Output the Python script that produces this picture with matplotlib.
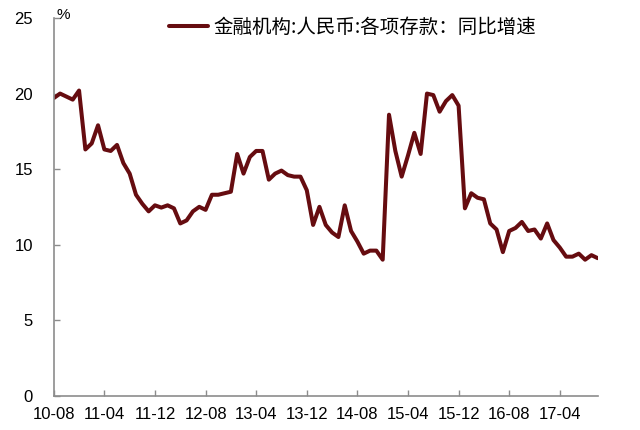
import matplotlib
matplotlib.use('Agg')
import matplotlib.pyplot as plt

plt.rcParams['font.family'] = ['Liberation Sans', 'Noto Sans CJK SC', 'DejaVu Sans']

# monthly, 2010-08 .. 2017-10
months = ['10-08', '10-09', '10-10', '10-11', '10-12',
          '11-01', '11-02', '11-03', '11-04', '11-05', '11-06', '11-07', '11-08',
          '11-09', '11-10', '11-11', '11-12',
          '12-01', '12-02', '12-03', '12-04', '12-05', '12-06', '12-07', '12-08',
          '12-09', '12-10', '12-11', '12-12',
          '13-01', '13-02', '13-03', '13-04', '13-05', '13-06', '13-07', '13-08',
          '13-09', '13-10', '13-11', '13-12',
          '14-01', '14-02', '14-03', '14-04', '14-05', '14-06', '14-07', '14-08',
          '14-09', '14-10', '14-11', '14-12',
          '15-01', '15-02', '15-03', '15-04', '15-05', '15-06', '15-07', '15-08',
          '15-09', '15-10', '15-11', '15-12',
          '16-01', '16-02', '16-03', '16-04', '16-05', '16-06', '16-07', '16-08',
          '16-09', '16-10', '16-11', '16-12',
          '17-01', '17-02', '17-03', '17-04', '17-05', '17-06', '17-07', '17-08',
          '17-09', '17-10']
deposit_yoy = [19.7, 20.0, 19.8, 19.6, 20.2,
               16.3, 16.7, 17.9, 16.3, 16.2, 16.6, 15.4, 14.7,
               13.3, 12.7, 12.2, 12.6,
               12.45, 12.6, 12.4, 11.4, 11.6, 12.2, 12.5, 12.3,
               13.3, 13.3, 13.4, 13.5,
               16.0, 14.7, 15.8, 16.2, 16.2, 14.3, 14.7, 14.9,
               14.6, 14.5, 14.5, 13.6,
               11.3, 12.5, 11.3, 10.8, 10.5, 12.6, 10.9, 10.2,
               9.4, 9.6, 9.6, 9.0,
               18.6, 16.2, 14.5, 15.9, 17.4, 16.0, 20.0, 19.9,
               18.8, 19.5, 19.9, 19.2,
               12.4, 13.4, 13.1, 13.0, 11.4, 11.0, 9.5, 10.9,
               11.1, 11.5, 10.9, 11.0,
               10.4, 11.4, 10.3, 9.8, 9.2, 9.2, 9.4, 9.0,
               9.3, 9.1]
series_name = '金融机构:人民币:各项存款：同比增速'

fig = plt.figure(figsize=(6.4, 4.3), dpi=100)
ax = fig.add_axes([0.084, 0.080, 0.850, 0.878])

x = list(range(len(months)))
ax.plot(x, deposit_yoy, color='#660c10', lw=2.9, solid_joinstyle='round',
        solid_capstyle='round', label=series_name)

ax.set_xlim(0, len(months) - 1)
ax.set_ylim(0, 25)
ax.set_yticks([0, 5, 10, 15, 20, 25])
ax.set_xticks(x[::8])
ax.set_xticklabels(months[::8])

for s in ['top', 'right']:
    ax.spines[s].set_visible(False)
for s in ['left', 'bottom']:
    ax.spines[s].set_color('#8c8c8c')
    ax.spines[s].set_linewidth(1.2)
ax.tick_params(axis='both', direction='in', length=4, width=1, color='#8c8c8c',
               labelsize=12, labelcolor='black')
ax.tick_params(axis='y', pad=15)
ax.tick_params(axis='x', pad=8)

ax.text(0.4, 25.2, '%', ha='left', va='center', fontsize=11, clip_on=False)

leg = fig.legend(loc='center left', bbox_to_anchor=(0.264, 0.937), frameon=False,
                 prop={'family': ['Noto Sans CJK SC'], 'size': 14, 'weight': 'light'},
                 handlelength=2.0, handletextpad=0.3, borderpad=0, borderaxespad=0)

fig.savefig('out.png', dpi=100, facecolor='white')
